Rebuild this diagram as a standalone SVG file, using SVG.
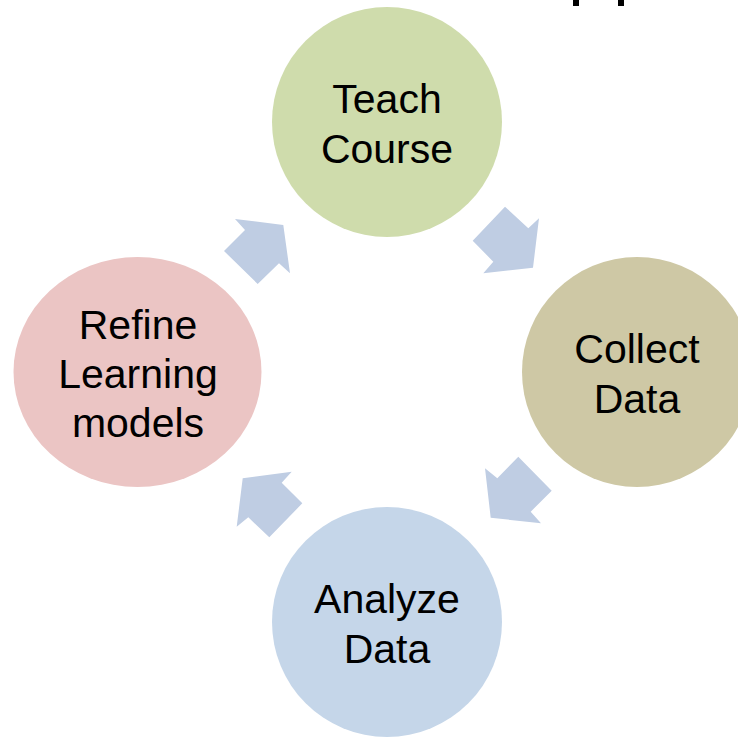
<svg xmlns="http://www.w3.org/2000/svg" width="738" height="737" viewBox="0 0 738 737">
  <style>
    .lbl { font-family: "Liberation Sans", Arial, sans-serif; font-size: 41px; fill: #000; text-anchor: middle; }
    .arrow { fill: #BFCDE3; }
  </style>
  <rect width="738" height="737" fill="#FFFFFF"/>
  <rect x="573" y="0" width="6" height="6" fill="#000"/>
  <rect x="618" y="0" width="6" height="6" fill="#000"/>
  <g id="connectors">
    <polygon class="arrow" points="472.7,240.7 505,206.7 528.3,228.3 539,218.3 533,267.7 483.3,273.3 493.3,261.7"/>
    <polygon class="arrow" points="518.3,456.7 551.7,490.7 530.7,511.7 541,523.3 490.7,517.7 485,468.3 497.3,478.3"/>
    <polygon class="arrow" points="242.7,478.3 291.7,471.7 281.7,482.7 302.3,503.3 269.3,537.3 248.3,517.3 236.7,526.7"/>
    <polygon class="arrow" points="235,219 283.3,225 290,273.3 279,263.3 257.7,284 224,251 245,230"/>
  </g>
  <g id="teach">
    <circle cx="387" cy="122" r="115" fill="#CFDCAC"/>
    <text class="lbl" x="387" y="113">Teach</text>
    <text class="lbl" x="387" y="163">Course</text>
  </g>
  <g id="collect">
    <circle cx="637" cy="372" r="115" fill="#CEC8A5"/>
    <text class="lbl" x="637" y="363">Collect</text>
    <text class="lbl" x="637" y="413">Data</text>
  </g>
  <g id="analyze">
    <circle cx="387" cy="622" r="115" fill="#C5D6E9"/>
    <text class="lbl" x="387" y="613">Analyze</text>
    <text class="lbl" x="387" y="663">Data</text>
  </g>
  <g id="refine">
    <ellipse cx="137.5" cy="372" rx="124" ry="115" fill="#EBC5C4"/>
    <text class="lbl" x="138" y="339">Refine</text>
    <text class="lbl" x="138" y="388">Learning</text>
    <text class="lbl" x="138" y="437">models</text>
  </g>
</svg>
